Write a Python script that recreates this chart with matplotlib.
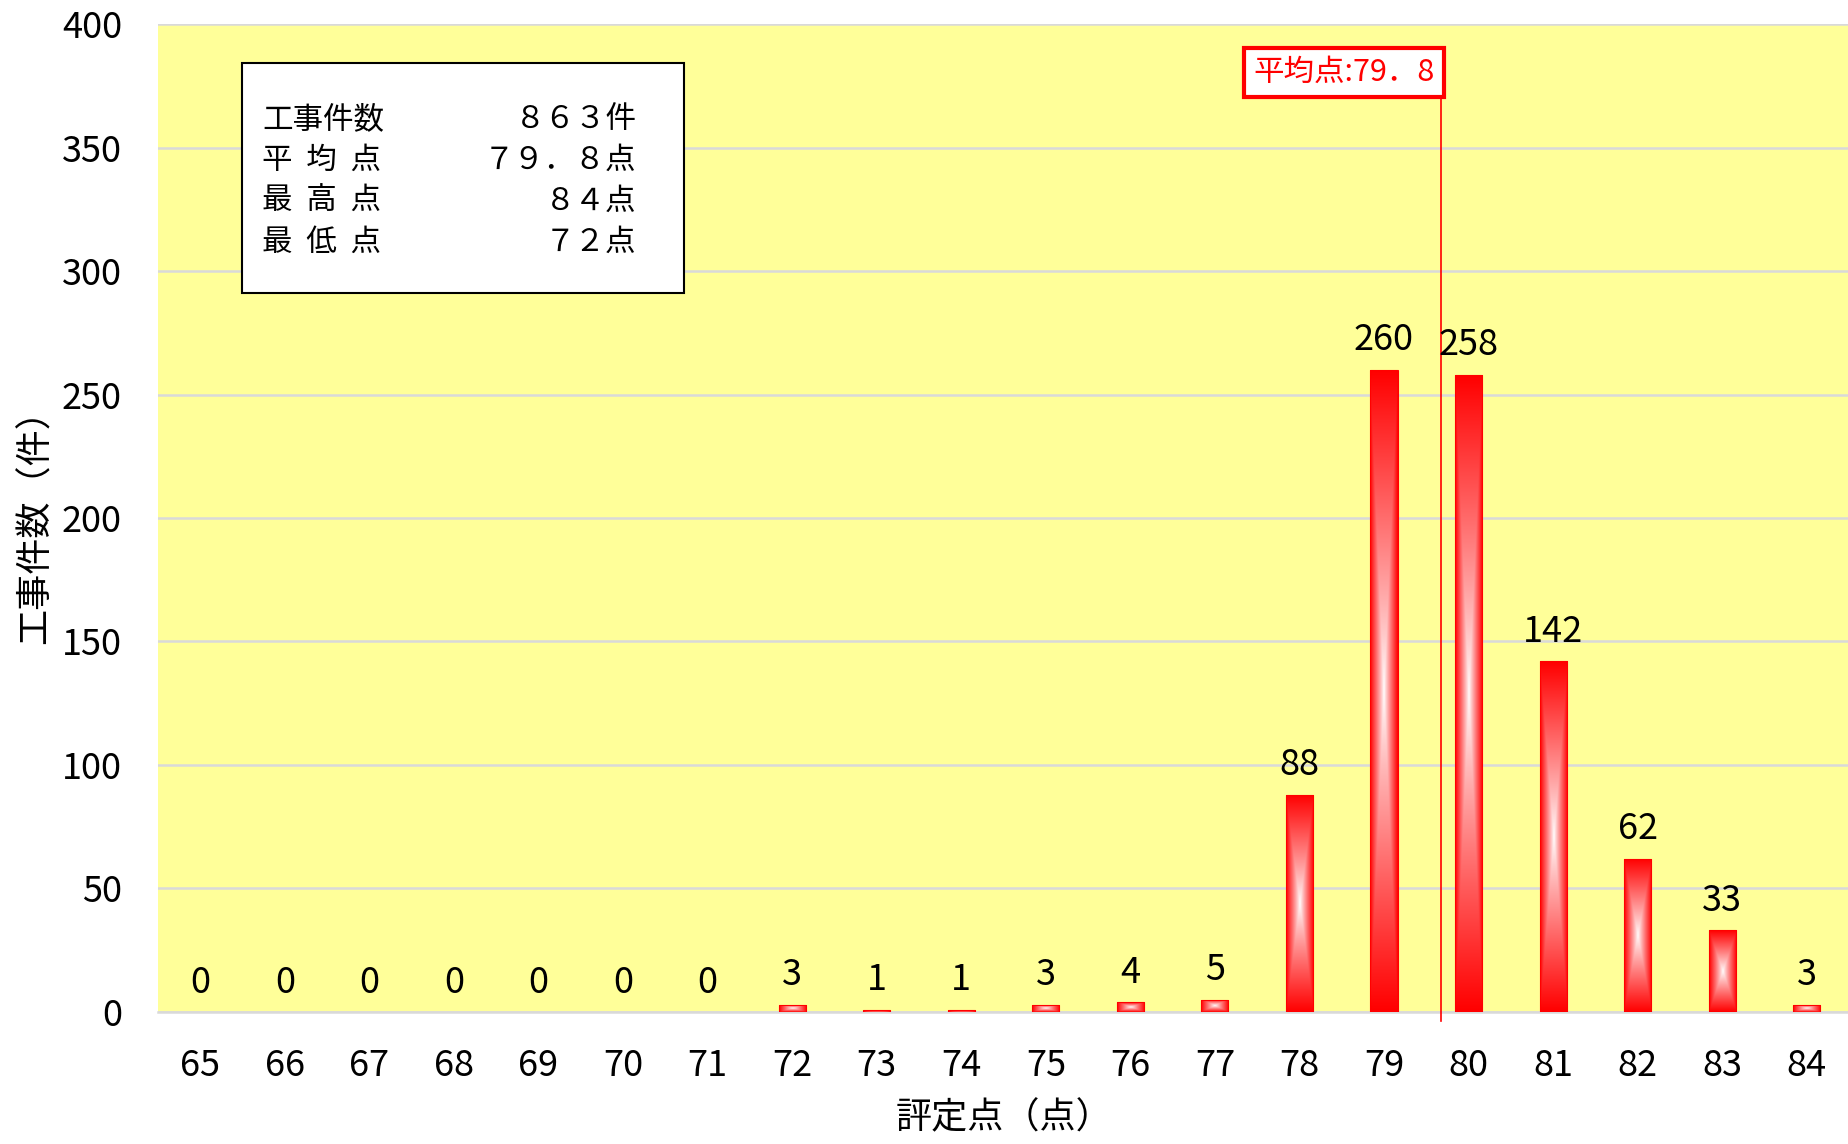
import numpy as np
import matplotlib
matplotlib.use("Agg")
import matplotlib.pyplot as plt
from matplotlib.patches import Rectangle

plt.rcParams['font.family'] = ['Noto Sans CJK JP', 'DejaVu Sans']

# data
scores = [65, 66, 67, 68, 69, 70, 71, 72, 73, 74, 75, 76, 77, 78, 79, 80, 81, 82, 83, 84]
counts = [0, 0, 0, 0, 0, 0, 0, 3, 1, 1, 3, 4, 5, 88, 260, 258, 142, 62, 33, 3]
mean_label = "平均点:79．8"
mean_line_x = 79.67   # where the mean marker sits on the category axis
stat_labels = ["工事件数", "平  均  点", "最  高  点", "最  低  点"]
stat_values = ["８６３件", "７９．８点", "８４点", "７２点"]

fig = plt.figure(figsize=(18.49, 11.44), dpi=100)
ax = fig.add_axes([0.0855, 0.1154, 0.9145, 0.8636])
ax.set_facecolor("#FFFF99")

bw = 0.32
bars = ax.bar(scores, counts, width=bw, facecolor="none", edgecolor="none", zorder=3)

# rectangular "from centre" gradient: white in the middle, red at the edges
n = 200
u = np.linspace(-1, 1, n)
U, V = np.meshgrid(u, u)
t = np.maximum(np.abs(U), np.abs(V))
t = np.clip(t, 0, 1) ** 0.9
red = np.array([1.0, 0.0, 0.0])
white = np.array([1.0, 1.0, 1.0])
grad = red[None, None, :] * t[..., None] + white[None, None, :] * (1 - t[..., None])

for b in bars:
    h = b.get_height()
    if h <= 0:
        continue
    x0 = b.get_x()
    w = b.get_width()
    im = ax.imshow(grad, extent=(x0, x0 + w, 0, h), aspect="auto",
                   origin="lower", zorder=3, interpolation="bilinear")
    im.set_clip_path(b)
    ax.add_patch(Rectangle((x0, 0), w, h, facecolor="none",
                           edgecolor="#FF0000", lw=0.8, zorder=4))

for x, c in zip(scores, counts):
    ax.annotate(str(c), (x, c), xytext=(0, 14), textcoords="offset points",
                ha="center", va="baseline", fontsize=26, color="black", zorder=6)

ax.set_xlim(64.5, 84.5)
ax.set_ylim(0, 400)
ax.set_yticks(np.arange(0, 401, 50))
ax.set_xticks(scores)
ax.set_xticklabels([str(s) for s in scores])
ax.tick_params(axis="both", length=0, labelsize=26, pad=26)
ax.yaxis.grid(True, color="#D9D9D9", lw=1.8, zorder=1)
ax.set_axisbelow(True)
for s in ["left", "right", "top"]:
    ax.spines[s].set_visible(False)
ax.spines["bottom"].set_color("#D9D9D9")
ax.spines["bottom"].set_linewidth(1.8)

ax.set_xlabel("評定点（点）", fontsize=26, labelpad=12)
ax.set_ylabel("工事件数（件）", fontsize=26, labelpad=6)

# mean marker
ax.plot([mean_line_x, mean_line_x], [-3.5, 370], color="#FF0000", lw=1.2,
        clip_on=False, zorder=5)
ax.text(78.53, 380.5, mean_label, ha="center", va="center", fontsize=22,
        color="#FF0000", zorder=7,
        bbox=dict(boxstyle="square,pad=0.3", facecolor="white",
                  edgecolor="#FF0000", lw=3))

# stats box
ax.add_patch(Rectangle((0.0495, 0.728), 0.2615, 0.2326, transform=ax.transAxes,
                       facecolor="white", edgecolor="black", lw=1.5, zorder=7))
ys = [0.903, 0.862, 0.821, 0.779]
for y, lab, val in zip(ys, stat_labels, stat_values):
    ax.text(0.0614, y, lab, transform=ax.transAxes, ha="left", va="center",
            fontsize=22, zorder=8)
    ax.text(0.283, y, val, transform=ax.transAxes, ha="right", va="center",
            fontsize=22, zorder=8)

fig.savefig("out.png", dpi=100)
